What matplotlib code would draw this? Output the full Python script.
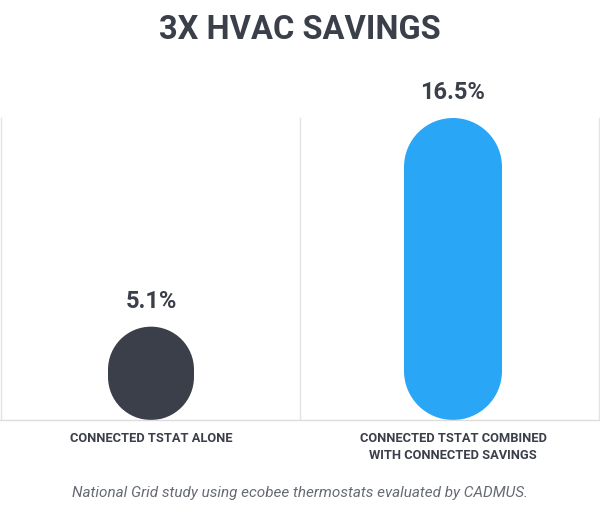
import matplotlib
matplotlib.use("Agg")
import matplotlib.pyplot as plt
from matplotlib.patches import Rectangle, Circle

categories = ["CONNECTED TSTAT ALONE", "CONNECTED TSTAT COMBINED\nWITH CONNECTED SAVINGS"]
values = [5.1, 16.5]
value_labels = ["5.1%", "16.5%"]
colors = ["#3a3f4a", "#2aa6f7"]

plt.rcParams['font.family'] = ['Roboto', 'DejaVu Sans']
fig = plt.figure(figsize=(6, 5.24), dpi=100)
ax = fig.add_axes([0, 0, 1, 1])
ax.set_xlim(0, 600)
ax.set_ylim(524, 0)
ax.set_aspect("equal")
ax.axis("off")

base = 420
scale = 302 / 16.5  # px per percent
centers = [151, 453]
widths = [86, 98]

# grid
ax.plot([0, 600], [base, base], color="#dcdcdc", lw=1)
for x in [1, 300, 599]:
    ax.plot([x, x], [118, base], color="#e2e2e2", lw=1)

for c, w, v, lab, col, cat in zip(centers, widths, values, value_labels, colors, categories):
    h = v * scale
    r = min(w, h) / 2
    top = base - h
    ax.add_patch(Rectangle((c - w / 2, top + r), w, h - 2 * r, fc=col, ec="none"))
    ax.add_patch(Circle((c, top + r), r, fc=col, ec="none"))
    ax.add_patch(Circle((c, base - r), r, fc=col, ec="none"))
    ax.text(c, top - 14, lab, ha="center", va="bottom", fontsize=17,
            fontweight="bold", color="#3a3f4a")
    ax.text(c, 432, cat, ha="center", va="top", fontsize=9.3, fontweight="bold",
            color="#3a3f4a", linespacing=1.4)

ax.text(300, 30, "3X HVAC SAVINGS", ha="center", va="center", fontsize=23.5,
        fontweight="bold", color="#3a3f4a")
ax.text(300, 493, "National Grid study using ecobee thermostats evaluated by CADMUS.",
        ha="center", va="center", fontsize=11, style="italic", color="#666b73")

fig.savefig("out.png", dpi=100)
